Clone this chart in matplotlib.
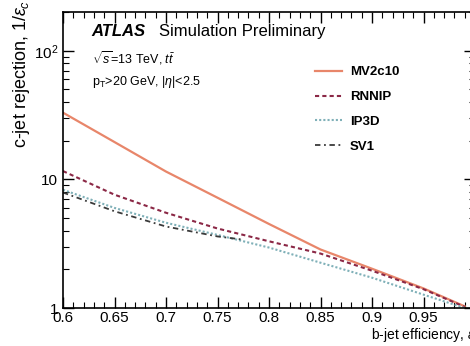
import matplotlib
matplotlib.use('Agg')
import matplotlib.pyplot as plt
from matplotlib.ticker import MultipleLocator, LogLocator, NullFormatter

plt.rcParams['font.family'] = ['Liberation Sans', 'DejaVu Sans']
plt.rcParams['mathtext.fontset'] = 'custom'
plt.rcParams['mathtext.rm'] = 'Liberation Sans'
plt.rcParams['mathtext.it'] = 'Liberation Sans:italic'

# b-jet efficiency grid and c-jet rejection
eff = [0.6, 0.65, 0.7, 0.75, 0.8, 0.85, 0.9, 0.95, 0.99]
mv2c10 = [33, 19.5, 11.5, 7.2, 4.5, 2.85, 2.02, 1.42, 1.03]
rnnip = [11.6, 7.6, 5.5, 4.15, 3.3, 2.65, 1.95, 1.4, 1.02]
ip3d = [8.3, 6.0, 4.6, 3.7, 2.95, 2.25, 1.72, 1.27, 1.0]

eff_sv1 = [0.6, 0.65, 0.7, 0.75, 0.775]
sv1 = [7.9, 5.65, 4.3, 3.6, 3.4]

xticks = [0.6, 0.65, 0.7, 0.75, 0.8, 0.85, 0.9, 0.95]
xticklabels = ['0.6', '0.65', '0.7', '0.75', '0.8', '0.85', '0.9', '0.95']

fig = plt.figure(figsize=(4.7, 3.46), dpi=100)
ax = fig.add_axes([63 / 470, 1 - 308 / 346, 412 / 470, 296 / 346])

ax.plot(eff, mv2c10, color='#e8866a', lw=1.6, label='MV2c10')
ax.plot(eff, rnnip, color='#8b2846', lw=1.5, ls=(0, (2, 1.5)), label='RNNIP')
ax.plot(eff, ip3d, color='#7fb0b8', lw=1.5, ls=(0, (1, 1)), label='IP3D')
ax.plot(eff_sv1, sv1, color='#3a3a3a', lw=1.3, ls=(0, (3, 2, 1, 2)), label='SV1')

ax.set_yscale('log')
ax.set_xlim(0.6, 1.0)
ax.set_ylim(1, 200)

ax.set_xticks(xticks)
ax.set_xticklabels(xticklabels)
ax.xaxis.set_minor_locator(MultipleLocator(0.01))
ax.set_yticks([1, 10, 100])
ax.set_yticklabels(['1', '10', '$10^2$'])
ax.yaxis.set_minor_locator(LogLocator(base=10, subs=range(2, 10)))
ax.yaxis.set_minor_formatter(NullFormatter())

ax.tick_params(which='both', direction='in', top=True, right=True, labelsize=11)
ax.tick_params(which='major', length=8, width=1)
ax.tick_params(which='minor', length=4, width=0.8)
ax.tick_params(axis='x', pad=2)
for s in ax.spines.values():
    s.set_linewidth(1.2)

# ATLAS label and info text
ax.text(0.07, 0.935, 'ATLAS', transform=ax.transAxes, fontsize=12,
        fontweight='bold', fontstyle='italic', va='center')
ax.text(0.232, 0.935, 'Simulation Preliminary', transform=ax.transAxes,
        fontsize=12, va='center')
ax.text(0.07, 0.845, r'$\sqrt{s}$=13 TeV, $t\bar{t}$', transform=ax.transAxes,
        fontsize=9, va='center')
ax.text(0.07, 0.765, r'p$_{\mathrm{T}}$>20 GeV, |$\eta$|<2.5',
        transform=ax.transAxes, fontsize=9, va='center')

leg = ax.legend(loc='upper left', bbox_to_anchor=(0.6, 0.835), frameon=False,
                fontsize=9.5, handlelength=2.0, handletextpad=0.6,
                labelspacing=0.95, borderaxespad=0)
for t in leg.get_texts():
    t.set_fontweight('bold')

fig.text(22 / 470, 1.0, r'c-jet rejection, 1/$\varepsilon_{c}$', rotation=90,
         ha='center', va='top', fontsize=13)
fig.text(481 / 470, 1 - 335 / 346, r'b-jet efficiency, $\varepsilon_{b}$',
         ha='right', va='center', fontsize=10)

fig.savefig('out.png', dpi=100)
